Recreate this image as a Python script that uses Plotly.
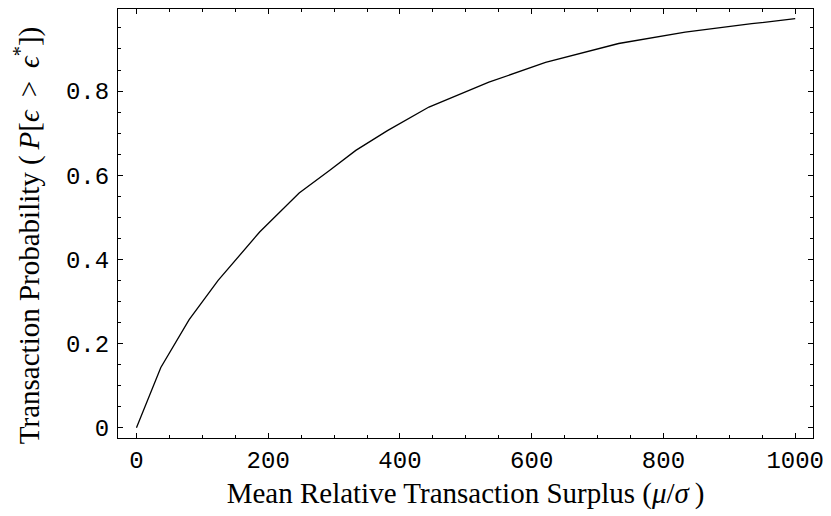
import plotly.graph_objects as go

# Data
surplus = [0, 37, 80, 124, 187, 247, 293, 333, 381, 444, 535, 621, 732, 833, 934, 1000]
probability = [0.0, 0.143, 0.257, 0.350, 0.465, 0.5575, 0.611, 0.659, 0.706, 0.762,
               0.821, 0.868, 0.913, 0.940, 0.960, 0.972]

x_tickvals = [0, 200, 400, 600, 800, 1000]
x_ticktext = ["0", "200", "400", "600", "800", "1000"]
y_tickvals = [0, 0.2, 0.4, 0.6, 0.8]
y_ticktext = ["0", "0.2", "0.4", "0.6", "0.8"]

x_title = "Mean Relative Transaction Surplus (<i>μ</i>/<i>σ</i>\u2009)"
y_title = "Transaction Probability (\u2009<i>P</i>[<i>ϵ</i>\u2009 > \u2009<i>ϵ</i><sup>*</sup>])"

fig = go.Figure()
fig.add_trace(go.Scatter(x=surplus, y=probability, mode="lines",
                         line=dict(color="black", width=1.3), showlegend=False,
                         hoverinfo="skip"))

tick_font = dict(family="Liberation Mono, Courier New, monospace", size=24, color="black")
title_font = dict(family="Liberation Serif, Times New Roman, serif", size=29, color="black")

common = dict(showline=True, linecolor="black", linewidth=1.2, mirror="ticks",
              ticks="inside", ticklen=5, tickwidth=1, tickcolor="black",
              showgrid=False, zeroline=False, tickfont=tick_font, automargin=False,
              ticklabeloverflow="allow")

fig.update_xaxes(range=[-28, 1027], tickvals=x_tickvals, ticktext=x_ticktext,
                 ticklabelstandoff=0,
                 minor=dict(ticks="inside", ticklen=3, tickwidth=1, tickcolor="black", dtick=50,
                            tick0=0, showgrid=False),
                 title=dict(text=x_title, font=title_font, standoff=8), **common)
fig.update_yaxes(range=[-0.0245, 0.995], tickvals=y_tickvals, ticktext=y_ticktext,
                 ticklabelstandoff=3,
                 minor=dict(ticks="inside", ticklen=3, tickwidth=1, tickcolor="black", dtick=0.05,
                            tick0=0, showgrid=False),
                 **common)

# Y-axis title placed as a rotated annotation for precise positioning
fig.add_annotation(text=y_title, xref="paper", yref="paper", x=-0.130, y=0.472,
                   xanchor="center", yanchor="middle", textangle=-90, showarrow=False,
                   font=dict(title_font, size=29))

# The page adds an 8px body margin, so the figure is placed to fit inside the window.
fig.update_layout(width=823, height=508, plot_bgcolor="white", paper_bgcolor="white",
                  margin=dict(l=110, r=18, t=1, b=78))

fig.write_html("out.html")
